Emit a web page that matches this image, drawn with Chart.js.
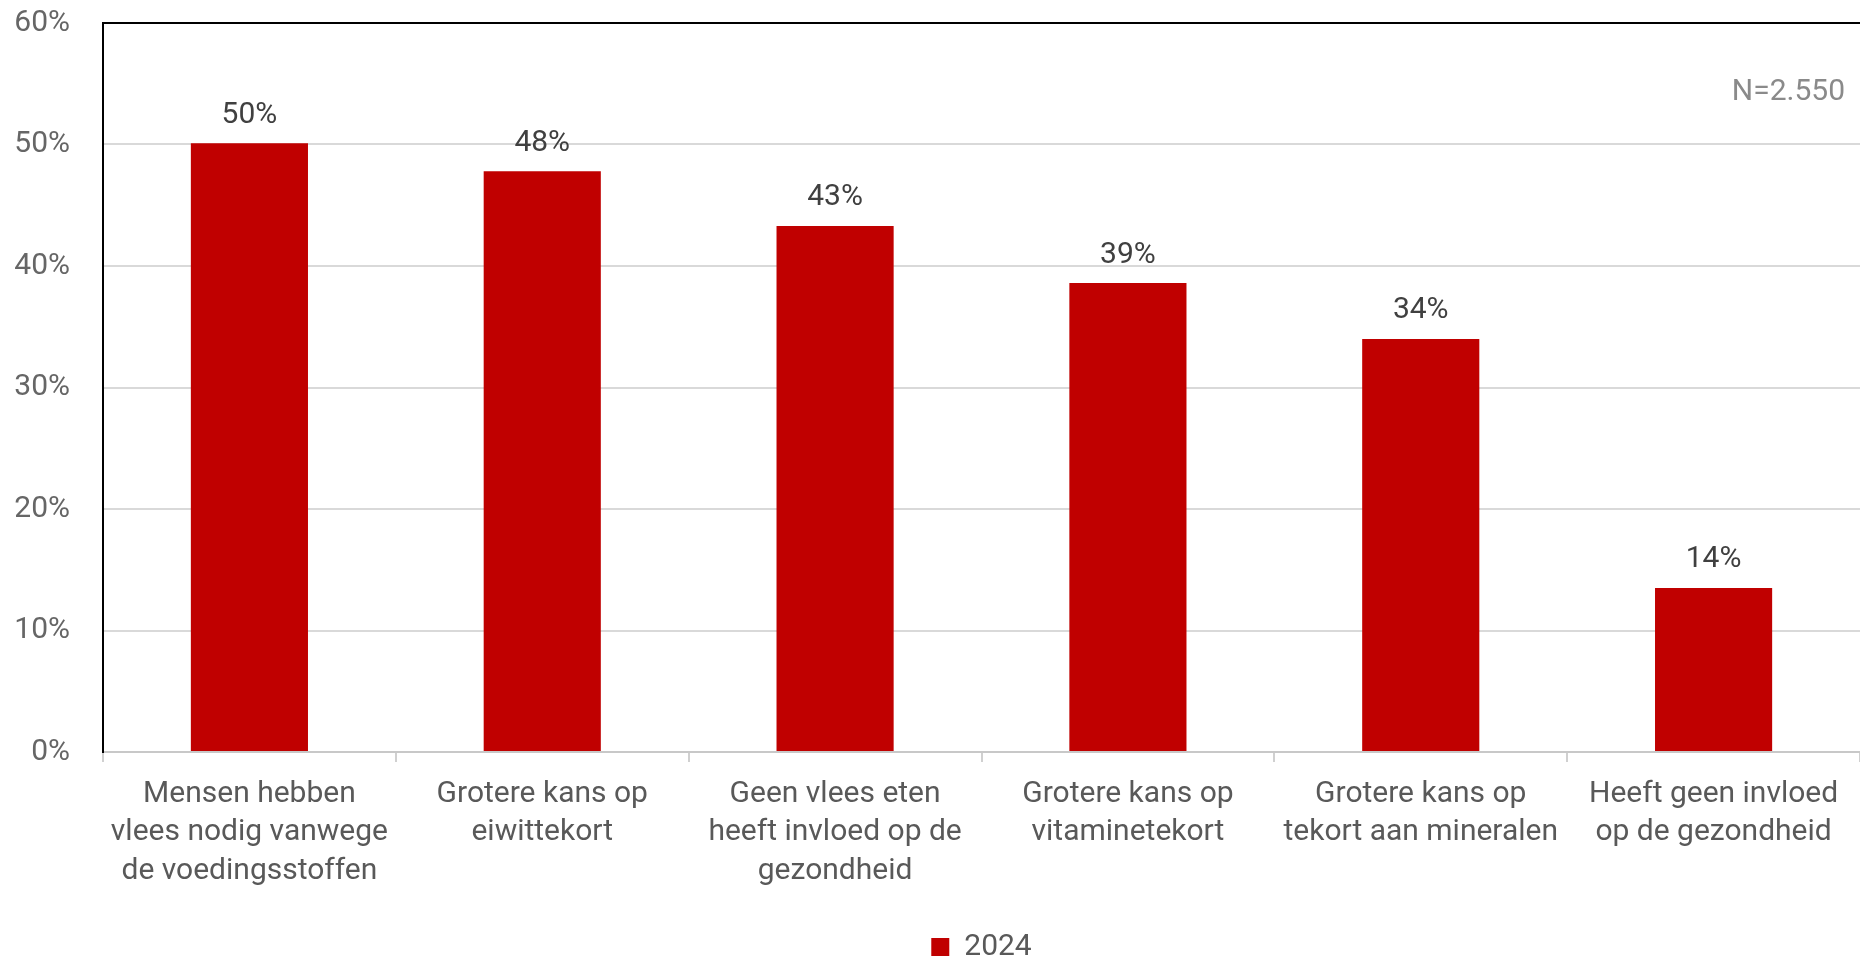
<!DOCTYPE html>
<html>
<head>
<meta charset="utf-8">
<script src="https://cdn.jsdelivr.net/npm/chart.js@4/dist/chart.umd.min.js"></script>
<style>
html,body{margin:0;padding:0;background:#fff;}
#wrap{width:1860px;height:959px;position:relative;}
</style>
</head>
<body>
<div id="wrap"><canvas id="c" width="1860" height="959"></canvas></div>
<script>
const categories = [
  ["Mensen hebben", "vlees nodig vanwege", "de voedingsstoffen"],
  ["Grotere kans op", "eiwittekort"],
  ["Geen vlees eten", "heeft invloed op de", "gezondheid"],
  ["Grotere kans op", "vitaminetekort"],
  ["Grotere kans op", "tekort aan mineralen"],
  ["Heeft geen invloed", "op de gezondheid"]
];
const values2024 = [50.1, 47.8, 43.3, 38.6, 34.0, 13.5];
const seriesName = "2024";
const yTicks = [0, 10, 20, 30, 40, 50, 60];
const noteText = "N=2.550";

const FONT = "Roboto";

const valueLabels = {
  id: 'valueLabels',
  afterDatasetsDraw(chart) {
    const ctx = chart.ctx;
    ctx.save();
    ctx.font = "30px " + FONT;
    ctx.fillStyle = "#404040";
    ctx.textAlign = "center";
    ctx.textBaseline = "bottom";
    chart.getDatasetMeta(0).data.forEach((bar, i) => {
      const v = chart.data.datasets[0].data[i];
      ctx.fillText(Math.round(v) + "%", bar.x, bar.y - 13);
    });
    ctx.restore();
  }
};

const frame = {
  id: 'frame',
  afterDraw(chart) {
    const a = chart.chartArea;
    const ctx = chart.ctx;
    ctx.save();
    ctx.strokeStyle = "#000";
    ctx.lineWidth = 2;
    ctx.beginPath();
    ctx.moveTo(a.left - 1, a.top);
    ctx.lineTo(a.right, a.top);
    ctx.stroke();
    ctx.font = "30px " + FONT;
    ctx.fillStyle = "#8a8a8a";
    ctx.textAlign = "right";
    ctx.textBaseline = "middle";
    ctx.fillText(noteText, a.right - 15, a.top + 69);
    ctx.restore();
  }
};

new Chart(document.getElementById('c'), {
  type: 'bar',
  data: {
    labels: categories,
    datasets: [{
      label: seriesName,
      data: values2024,
      backgroundColor: "#c00000",
      borderWidth: 0,
      barPercentage: 0.4,
      categoryPercentage: 1.0
    }]
  },
  options: {
    responsive: false,
    animation: false,
    devicePixelRatio: 1,
    layout: { padding: { top: 23, right: 0, left: 0, bottom: -13 } },
    plugins: {
      legend: {
        position: 'bottom',
        fullSize: false,
        labels: {
          boxWidth: 18,
          boxHeight: 18,
          padding: 0,
          color: "#595959",
          font: { family: FONT, size: 30 }
        }
      },
      tooltip: { enabled: false }
    },
    scales: {
      x: {
        grid: {
          offset: true,
          drawOnChartArea: false,
          drawTicks: true,
          tickLength: 10,
          color: "#d0d0d0",
          lineWidth: 2
        },
        border: { color: "#c8c8c8", width: 2 },
        ticks: {
          color: "#595959",
          font: { family: FONT, size: 30, lineHeight: 1.28 },
          padding: 13,
          maxRotation: 0,
          autoSkip: false
        },
        afterFit(scale) { scale.height = 180; }
      },
      y: {
        min: 0,
        max: 60,
        afterBuildTicks(scale) { scale.ticks = yTicks.map(v => ({ value: v })); },
        grid: { color: "#d9d9d9", lineWidth: 2, drawTicks: true, tickLength: 33, tickColor: "rgba(0,0,0,0)" },
        border: { color: "#000", width: 2 },
        ticks: {
          color: "#666666",
          font: { family: FONT, size: 30, lineHeight: 1.0 },
          padding: 0,
          callback: v => v + "%"
        },
        afterFit(scale) { scale.width = 103; }
      }
    }
  },
  plugins: [valueLabels, frame]
});
</script>
</body>
</html>
